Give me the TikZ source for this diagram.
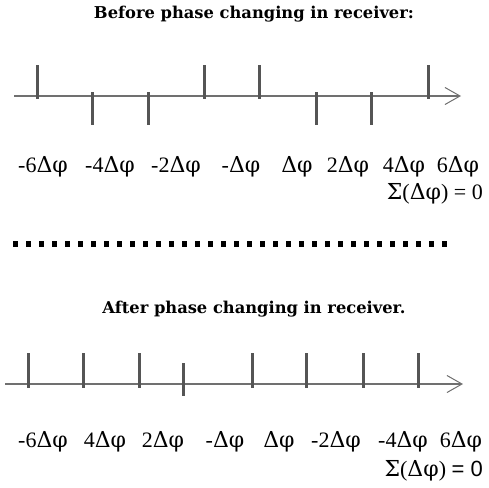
\documentclass[tikz,border=0pt]{standalone}
\usepackage{fontspec}
\setmainfont{Liberation Serif}
\newfontfamily\sumsans{Liberation Sans}
\newfontfamily\grk{DejaVu Serif}
\newfontfamily\headfont{DejaVu Serif}
\newcommand\dphi{{\grk Δφ}}
\usetikzlibrary{arrows.meta}
\definecolor{axisgray}{HTML}{707070}
\definecolor{tickgray}{HTML}{555555}

\begin{document}
\begin{tikzpicture}[
  x=1pt, y=-1pt,
  every node/.style={inner sep=0pt},
  heading/.style={anchor=base, font=\fontsize{16.3}{20}\headfont\bfseries},
  lbl/.style={anchor=base, font=\fontsize{22}{26}\selectfont},
  sumlbl/.style={anchor=base east, font=\fontsize{22}{26}\selectfont},
  axisline/.style={draw=axisgray, line width=1.4pt,
    -{Straight Barb[length=15pt, width=17pt, line width=1pt]}},
  tick/.style={draw=tickgray, line width=3pt},
  sep/.style={draw=black, line width=5.5pt, dash pattern=on 5pt off 8pt}
]
\useasboundingbox (0,0) rectangle (489,487);

% before
\node[heading] (titleA) at (254,19) {Before phase changing in receiver:};
\coordinate (axAstart) at (14,96);
\coordinate (axAend) at (461,96);
\draw[axisline] (axAstart) -- (axAend);
\foreach \x in {37,204,259,428} \draw[tick] (\x,65) -- (\x,99);
\foreach \x in {92,148,316,371} \draw[tick] (\x,92) -- (\x,125);
\foreach \x/\t [count=\i] in {43/-6,110/-4,176/-2,241/-,297/,348/2,404/4,458/6}
  \node[lbl] (lblA\i) at (\x,172) {\t\dphi};
\node[sumlbl] (sumA) at (483,199) {{\grk Σ}(\dphi) = 0};

% separator
\coordinate (sepstart) at (13,244);
\coordinate (sepend) at (448,244);
\draw[sep] (sepstart) -- (sepend);

% after
\node[heading] (titleB) at (254,313) {After phase changing in receiver.};
\coordinate (axBstart) at (5,384);
\coordinate (axBend) at (463,384);
\draw[axisline] (axBstart) -- (axBend);
\foreach \x in {28,83,139,252,306,363,418} \draw[tick] (\x,353) -- (\x,388);
\draw[tick] (183,363) -- (183,396);
\foreach \x/\t [count=\i] in {43/-6,105/4,163/2,225/-,279/,336/-2,403/-4,461/6}
  \node[lbl] (lblB\i) at (\x,447) {\t\dphi};
\node[sumlbl] (sumB) at (483,476) {{\grk Σ}(\dphi) {\sumsans = 0}};
\end{tikzpicture}
\end{document}
